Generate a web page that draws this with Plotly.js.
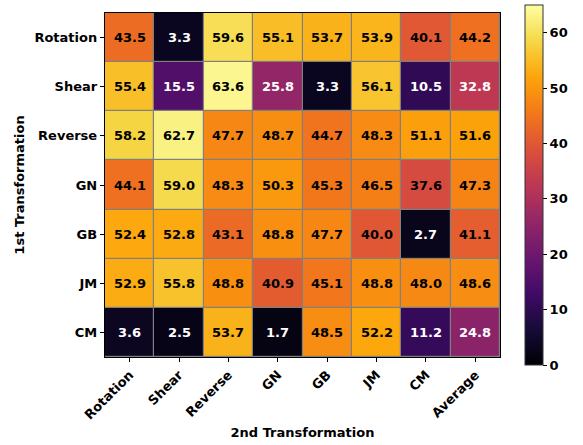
<!DOCTYPE html>
<html>
<head>
<meta charset="utf-8">
<script src="https://cdn.plot.ly/plotly-3.0.1.min.js"></script>
<style>html,body{margin:0;padding:0;background:#fff;}#chart{width:583px;height:445px;}</style>
</head>
<body>
<div id="chart"></div>
<script>
const secondTransforms = ["Rotation", "Shear", "Reverse", "GN", "GB", "JM", "CM", "Average"];
const firstTransforms = ["Rotation", "Shear", "Reverse", "GN", "GB", "JM", "CM"];
const rowRotation = [43.5, 3.3, 59.6, 55.1, 53.7, 53.9, 40.1, 44.2];
const rowShear    = [55.4, 15.5, 63.6, 25.8, 3.3, 56.1, 10.5, 32.8];
const rowReverse  = [58.2, 62.7, 47.7, 48.7, 44.7, 48.3, 51.1, 51.6];
const rowGN       = [44.1, 59.0, 48.3, 50.3, 45.3, 46.5, 37.6, 47.3];
const rowGB       = [52.4, 52.8, 43.1, 48.8, 47.7, 40.0, 2.7, 41.1];
const rowJM       = [52.9, 55.8, 48.8, 40.9, 45.1, 48.8, 48.0, 48.6];
const rowCM       = [3.6, 2.5, 53.7, 1.7, 48.5, 52.2, 11.2, 24.8];
const colorTicks = [0, 10, 20, 30, 40, 50, 60];

const z = [rowRotation, rowShear, rowReverse, rowGN, rowGB, rowJM, rowCM];

const inferno = [
  [0.0, "#000004"], [0.1, "#160b39"], [0.2, "#420a68"], [0.3, "#6a176e"],
  [0.4, "#932667"], [0.5, "#bc3754"], [0.6, "#dd513a"], [0.7, "#f37819"],
  [0.8, "#fca50a"], [0.9, "#f6d746"], [1.0, "#fcffa4"]
];

const FONT = "DejaVu Sans, sans-serif";

const annotations = [];
z.forEach((row, i) => {
  row.forEach((v, j) => {
    annotations.push({
      x: secondTransforms[j], y: firstTransforms[i], xref: "x", yref: "y",
      text: v.toFixed(1), showarrow: false,
      font: {family: FONT, size: 13, color: v < 35 ? "#ffffff" : "#000000", weight: "bold"}
    });
  });
});

const trace = {
  type: "heatmap",
  x: secondTransforms,
  y: firstTransforms,
  z: z,
  zmin: 0, zmax: 65,
  colorscale: inferno,
  xgap: 1.2, ygap: 1.2,
  hoverinfo: "skip",
  colorbar: {
    x: 1.063, xanchor: "left", xref: "paper",
    y: 0.5, yanchor: "middle",
    thickness: 18, thicknessmode: "pixels",
    len: 360, lenmode: "pixels",
    outlinewidth: 1, outlinecolor: "#333",
    tickvals: colorTicks,
    ticks: "outside", ticklen: 4, tickwidth: 1, tickcolor: "#000",
    tickfont: {family: FONT, size: 13, color: "#000", weight: "bold"},
    xpad: 0, ypad: 0
  }
};

const layout = {
  width: 583, height: 445,
  margin: {l: 105, r: 83, t: 13, b: 88, autoexpand: false},
  paper_bgcolor: "#ffffff",
  plot_bgcolor: "#808080",
  font: {family: FONT, color: "#000"},
  xaxis: {
    type: "category",
    tickangle: -45,
    ticks: "outside", ticklen: 4, tickwidth: 1, tickcolor: "#000",
    tickfont: {family: FONT, size: 13, weight: "bold", color: "#000"},
    showline: true, mirror: true, linecolor: "#000", linewidth: 1.2,
    showgrid: false, zeroline: false,
    title: {text: "2nd Transformation", font: {family: FONT, size: 13, weight: "bold", color: "#000"}, standoff: 6}
  },
  yaxis: {
    type: "category",
    autorange: "reversed",
    ticks: "outside", ticklen: 4, tickwidth: 1, tickcolor: "#000",
    tickfont: {family: FONT, size: 13, weight: "bold", color: "#000"},
    showline: true, mirror: true, linecolor: "#000", linewidth: 1.2,
    showgrid: false, zeroline: false,
    title: {text: "1st Transformation", font: {family: FONT, size: 13, weight: "bold", color: "#000"}, standoff: 6}
  },
  annotations: annotations
};

Plotly.newPlot("chart", [trace], layout, {displayModeBar: false, staticPlot: true});
</script>
</body>
</html>
